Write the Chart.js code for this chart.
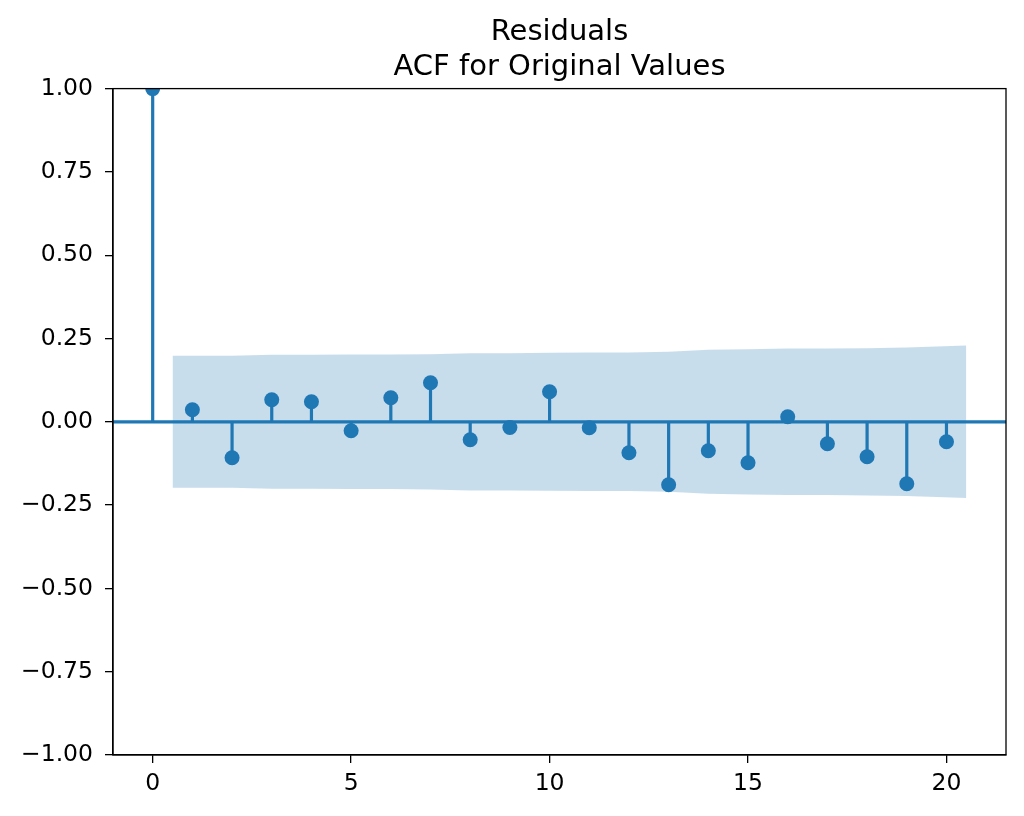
<!DOCTYPE html>
<html>
<head>
<meta charset="utf-8">
<title>Residuals ACF</title>
<script src="https://cdn.jsdelivr.net/npm/chart.js@4.4.1/dist/chart.umd.min.js"></script>
<style>
  body { margin: 0; background: #fff; }
  canvas { display: block; }
</style>
</head>
<body>
<canvas id="acf" width="1024" height="816"></canvas>
<script>
// autocorrelation per lag
const lags = [0, 1, 2, 3, 4, 5, 6, 7, 8, 9, 10, 11, 12, 13, 14, 15, 16, 17, 18, 19, 20];
const acf = [1.0, 0.036, -0.108, 0.066, 0.060, -0.027, 0.072, 0.117, -0.054, -0.017, 0.090,
             -0.018, -0.093, -0.189, -0.087, -0.123, 0.015, -0.066, -0.105, -0.186, -0.060];

// confidence band (half width) for lags 1..20, first/last edge pushed out by half a lag
const bandX = [0.5, 2, 3, 4, 5, 6, 7, 8, 9, 10, 11, 12, 13, 14, 15, 16, 17, 18, 19, 20.5];
const band = [0.198, 0.198, 0.201, 0.201, 0.202, 0.202, 0.203, 0.206, 0.206, 0.207,
              0.208, 0.208, 0.210, 0.216, 0.218, 0.220, 0.220, 0.221, 0.223, 0.229];

const xTicks = [0, 5, 10, 15, 20];
const yTicks = [-1, -0.75, -0.5, -0.25, 0, 0.25, 0.5, 0.75, 1];

const blue = "#1f77b4";
const font = { family: "DejaVu Sans", size: 23.5 };

const stems = [];
lags.forEach((k, i) => {
    stems.push({ x: k, y: 0 }, { x: k, y: acf[i] }, { x: k, y: null });
});

const frame = {
    id: "frame",
    afterDraw(chart) {
        const a = chart.chartArea;
        const c = chart.ctx;
        c.save();
        c.strokeStyle = "#000";
        c.lineWidth = 1.3;
        c.strokeRect(a.left, a.top, a.right - a.left, a.bottom - a.top);
        c.restore();
    }
};

const context = document.getElementById("acf").getContext("2d");
new Chart(context, {
    type: "line",
    data: {
        datasets: [
            {
                type: "scatter",
                data: lags.map((k, i) => ({ x: k, y: acf[i] })),
                pointRadius: 7.5,
                pointBackgroundColor: blue,
                pointBorderWidth: 0,
                showLine: false,
                clip: 0
            },
            {
                data: stems,
                borderColor: blue,
                borderWidth: 3.2,
                pointRadius: 0,
                spanGaps: false,
                clip: 0
            },
            {
                data: [{ x: -1, y: 0 }, { x: 21.5, y: 0 }],
                borderColor: blue,
                borderWidth: 3.2,
                pointRadius: 0
            },
            {
                data: bandX.map((x, i) => ({ x: x, y: band[i] })),
                borderWidth: 0,
                pointRadius: 0,
                backgroundColor: "rgba(31, 119, 180, 0.25)",
                fill: "+1"
            },
            {
                data: bandX.map((x, i) => ({ x: x, y: -band[i] })),
                borderWidth: 0,
                pointRadius: 0,
                fill: false
            }
        ]
    },
    options: {
        responsive: false,
        animation: false,
        layout: { padding: { top: 11, right: 18, bottom: 0, left: 0 } },
        plugins: {
            legend: { display: false },
            tooltip: { enabled: false },
            filler: { drawTime: "beforeDatasetsDraw" },
            title: {
                display: true,
                fullSize: false,
                text: ["Residuals", "ACF for Original Values"],
                color: "#000",
                font: { family: "DejaVu Sans", size: 29, weight: "normal", lineHeight: 1.2 },
                padding: { top: 4, bottom: 4 }
            }
        },
        scales: {
            x: {
                type: "linear",
                min: -1,
                max: 21.5,
                afterBuildTicks(scale) { scale.ticks = xTicks.map(v => ({ value: v })); },
                afterFit(scale) { scale.height = 61; },
                grid: { drawOnChartArea: false, drawTicks: true, tickLength: 8, tickColor: "#000", lineWidth: 1.3 },
                border: { display: true, color: "#000", width: 1.3 },
                ticks: { color: "#000", font: font, padding: 7, maxRotation: 0 }
            },
            y: {
                min: -1,
                max: 1,
                afterBuildTicks(scale) { scale.ticks = yTicks.map(v => ({ value: v })); },
                afterFit(scale) { scale.width = 113; },
                grid: { drawOnChartArea: false, drawTicks: true, tickLength: 8, tickColor: "#000", lineWidth: 1.3 },
                border: { display: true, color: "#000", width: 1.3 },
                ticks: {
                    color: "#000",
                    font: font,
                    padding: 12,
                    callback: v => v.toFixed(2).replace("-", "\u2212")
                }
            }
        }
    },
    plugins: [frame]
});
</script>
</body>
</html>
